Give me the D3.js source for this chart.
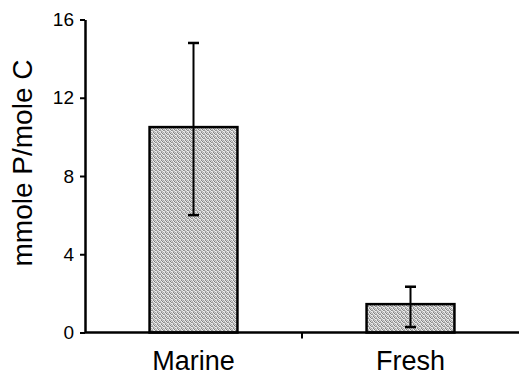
<!DOCTYPE html>
<html>
<head>
<meta charset="utf-8">
<script src="https://cdn.jsdelivr.net/npm/d3@7"></script>
<style>
    body { margin: 0; background: #fff; }
    text { font-family: "Liberation Sans", Arial, Helvetica, sans-serif; fill: #000; }
</style>
</head>
<body>
<svg id="chart-svg" width="519" height="376"></svg>
<script>
// values
const categories = ["Marine", "Fresh"];
const means = [10.5, 1.45];
const errLow = [6.0, 0.28];
const errHigh = [14.8, 2.34];
const yTicks = [0, 4, 8, 12, 16];
const yLabel = "mmole P/mole C";

const width = 519;
const height = 376;
const margin = {top: 19.5, right: 0, bottom: 43.5, left: 85};

const svg = d3.select("#chart-svg");

// mottled grey fill, like the halftone in the scan
const defs = svg.append("defs");
const pat = defs.append("pattern")
    .attr("id", "stipple")
    .attr("width", 4)
    .attr("height", 4)
    .attr("patternUnits", "userSpaceOnUse");
const cells = [
    "#e6e6e6", "#8a8a8a", "#d0d0d0", "#a8a8a8",
    "#b4b4b4", "#f0f0f0", "#7c7c7c", "#dadada",
    "#9a9a9a", "#cfcfcf", "#e8e8e8", "#8e8e8e",
    "#dedede", "#a2a2a2", "#bcbcbc", "#f2f2f2"
];
cells.forEach((c, i) => {
    pat.append("rect")
        .attr("x", i % 4).attr("y", Math.floor(i / 4))
        .attr("width", 1).attr("height", 1)
        .attr("fill", c);
});

const x = d3.scaleBand()
    .domain(categories)
    .range([margin.left, width - margin.right])
    .padding(0);

const y = d3.scaleLinear()
    .domain([0, 16])
    .range([height - margin.bottom, margin.top]);

const barW = x.bandwidth() * 0.405;
const cx = d => x(d) + x.bandwidth() / 2;

// bars
svg.append("g")
    .selectAll("rect")
    .data(categories)
    .join("rect")
    .attr("x", d => cx(d) - barW / 2)
    .attr("y", (d, i) => y(means[i]))
    .attr("width", barW)
    .attr("height", (d, i) => y(0) - y(means[i]))
    .attr("fill", "url(#stipple)")
    .attr("stroke", "#000")
    .attr("stroke-width", 2.5);

// error bars
const err = svg.append("g").attr("stroke", "#000");
categories.forEach((c, i) => {
    err.append("line")
        .attr("x1", cx(c)).attr("x2", cx(c))
        .attr("y1", y(errLow[i])).attr("y2", y(errHigh[i]))
        .attr("stroke-width", 2);
    [errLow[i], errHigh[i]].forEach(v => {
        err.append("line")
            .attr("x1", cx(c) - 5.5).attr("x2", cx(c) + 5.5)
            .attr("y1", y(v)).attr("y2", y(v))
            .attr("stroke-width", 2.5);
    });
});

// y axis
const yAxis = svg.append("g")
    .attr("transform", `translate(${margin.left},0)`)
    .call(d3.axisLeft(y).tickValues(yTicks).tickSize(5).tickPadding(6).tickSizeOuter(0))
    .attr("font-size", 19)
    .attr("font-family", null);
yAxis.select(".domain").attr("stroke-width", 2.5);
yAxis.selectAll(".tick line").attr("stroke-width", 2);
yAxis.selectAll(".tick text").style("font-size", "19px");

// x axis: baseline with a tick between the categories
const xAxis = svg.append("g")
    .attr("transform", `translate(0,${y(0)})`);
xAxis.append("line")
    .attr("x1", margin.left).attr("x2", width)
    .attr("stroke", "#000")
    .attr("stroke-width", 2.5);
xAxis.append("line")
    .attr("x1", x("Fresh")).attr("x2", x("Fresh"))
    .attr("y1", 0).attr("y2", 6)
    .attr("stroke", "#000")
    .attr("stroke-width", 2);

// category labels
svg.append("g")
    .selectAll("text")
    .data(categories)
    .join("text")
    .attr("x", d => cx(d))
    .attr("y", 370)
    .attr("text-anchor", "middle")
    .style("font-size", "27px")
    .text(d => d);

// y label
svg.append("text")
    .attr("transform", `translate(32,163) rotate(-90)`)
    .attr("text-anchor", "middle")
    .style("font-size", "28px")
    .text(yLabel);
</script>
</body>
</html>
